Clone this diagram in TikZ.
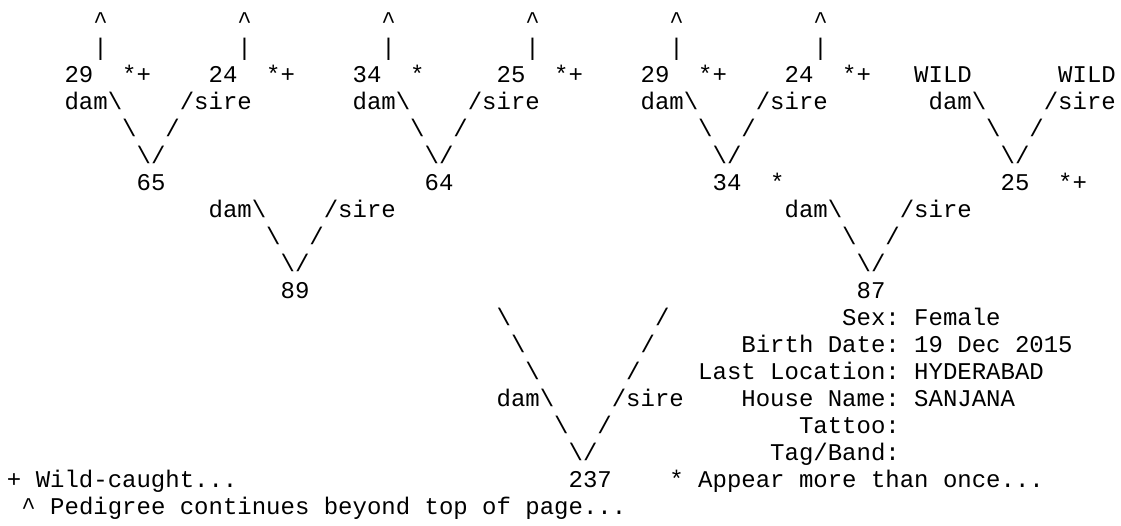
\documentclass[tikz,border=0pt]{standalone}
\usepackage{fontspec}
\newfontfamily\pedfont{Liberation Mono}
\newcommand{\bsl}{\textbackslash}
\frenchspacing

\begin{document}
\begin{tikzpicture}[
    x=10.8pt, y=-20.25pt,   % one character cell, one text line
    txt/.style={
        anchor=base west,
        inner sep=0pt,
        outer sep=0pt,
        font=\pedfont\fontsize{18pt}{20.25pt}\selectfont
    }
]
\useasboundingbox (-5.25pt,21pt) rectangle (835.5pt,-372.75pt);

% pedigree goes on above the top row
\foreach \c in {6,16,...,56} {
    \node[txt] (up\c)  at (\c,0) {\textasciicircum};
    \node[txt] (bar\c) at (\c,1) {|};
}

% top generation
\node[txt] (a1) at (4,2)  {29};   \node[txt] (a1f) at (8,2)  {*+};
\node[txt] (a2) at (14,2) {24};   \node[txt] (a2f) at (18,2) {*+};
\node[txt] (a3) at (24,2) {34};   \node[txt] (a3f) at (28,2) {*};
\node[txt] (a4) at (34,2) {25};   \node[txt] (a4f) at (38,2) {*+};
\node[txt] (a5) at (44,2) {29};   \node[txt] (a5f) at (48,2) {*+};
\node[txt] (a6) at (54,2) {24};   \node[txt] (a6f) at (58,2) {*+};
\node[txt] (a7) at (63,2) {WILD};
\node[txt] (a8) at (73,2) {WILD};

% dam / sire forks
\foreach \c/\r [count=\i] in {4/3, 24/3, 44/3, 64/3, 14/7, 54/7, 34/14} {
    \node[txt] (dam\i)  at (\c,\r)     {dam\bsl};
    \node[txt] (sire\i) at (\c+8,\r)   {/sire};
    \node[txt] (vl\i)   at (\c+4,\r+1) {\bsl};
    \node[txt] (vr\i)   at (\c+7,\r+1) {/};
    \node[txt] (vv\i)   at (\c+5,\r+2) {\bsl/};
}

% parents
\node[txt] (b1) at (9,6)  {65};
\node[txt] (b2) at (29,6) {64};
\node[txt] (b3) at (49,6) {34};   \node[txt] (b3f) at (53,6) {*};
\node[txt] (b4) at (69,6) {25};   \node[txt] (b4f) at (73,6) {*+};
\node[txt] (c1) at (19,10) {89};
\node[txt] (c2) at (59,10) {87};

% long legs down to the bird
\foreach \k in {0,1,2} {
    \node[txt] (ll\k) at (34+\k,11+\k) {\bsl};
    \node[txt] (lr\k) at (45-\k,11+\k) {/};
}
\node[txt] (bird) at (39,17) {237};

% details
\node[txt] (sex)    at (58,11) {Sex: Female};
\node[txt] (birth)  at (51,12) {Birth Date: 19 Dec 2015};
\node[txt] (loc)    at (48,13) {Last Location: HYDERABAD};
\node[txt] (house)  at (51,14) {House Name: SANJANA};
\node[txt] (tattoo) at (55,15) {Tattoo:};
\node[txt] (tag)    at (53,16) {Tag/Band:};

% key
\node[txt] (wild) at (0,17)  {+ Wild-caught...};
\node[txt] (more) at (46,17) {* Appear more than once...};
\node[txt] (cont) at (1,18)  {\textasciicircum{} Pedigree continues beyond top of page...};
\end{tikzpicture}
\end{document}
